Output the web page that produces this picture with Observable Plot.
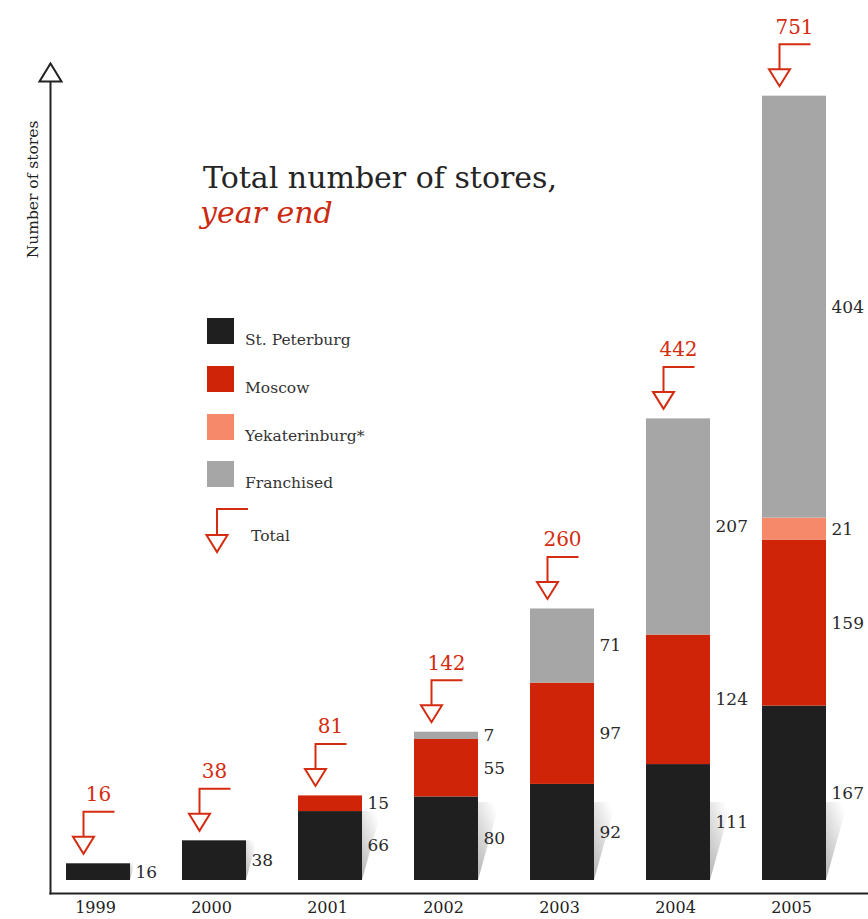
<!DOCTYPE html>
<html>
<head>
<meta charset="utf-8">
<script src="https://cdn.jsdelivr.net/npm/d3@7"></script>
<script src="https://cdn.jsdelivr.net/npm/@observablehq/plot@0.6"></script>
<style>
  body { margin: 0; background: #fff; }
  #wrap { position: relative; width: 868px; height: 919px; font-family: "DejaVu Serif", serif; }
  #wrap svg.overlay { position: absolute; left: 0; top: 0; pointer-events: none; }
</style>
</head>
<body>
<div id="wrap"></div>
<script>
// ---- data ----
const years = ["1999", "2000", "2001", "2002", "2003", "2004", "2005"];
const stPetersburg = [16, 38, 66, 80, 92, 111, 167];
const moscow = [0, 0, 15, 55, 97, 124, 159];
const yekaterinburg = [0, 0, 0, 0, 0, 0, 21];
const franchised = [0, 0, 0, 7, 71, 207, 404];
const totals = [16, 38, 81, 142, 260, 442, 751];
const seriesNames = ["St. Peterburg", "Moscow", "Yekaterinburg*", "Franchised"];
const seriesColors = ["#1f1f1f", "#cf2408", "#f5896a", "#a6a6a6"];
const titleLine1 = "Total number of stores,";
const titleLine2 = "year end";
const yLabel = "Number of stores";
const totalLabel = "Total";

const RED = "#d42c10";
const seriesValues = [stPetersburg, moscow, yekaterinburg, franchised];
const rows = [];
seriesNames.forEach((s, j) => years.forEach((y, i) => {
  if (seriesValues[j][i] > 0) rows.push({year: y, series: s, value: seriesValues[j][i]});
}));
const stRows = years.map((y, i) => ({year: y, value: stPetersburg[i]}));
const totalRows = years.map((y, i) => ({year: y, total: totals[i]}));

// arrow marker (line + hollow triangle), drawn relative to bar top centre
const arrowSymbol = {
  draw(ctx) {
    ctx.moveTo(16, -52); ctx.lineTo(-15, -52); ctx.lineTo(-15, -27);
    ctx.moveTo(-25.5, -27); ctx.lineTo(-4.5, -27); ctx.lineTo(-15, -10); ctx.closePath();
  }
};
const axisArrow = {
  draw(ctx) {
    ctx.moveTo(-11, 1); ctx.lineTo(11, 1); ctx.lineTo(0, -17); ctx.closePath();
  }
};

function shadowRender(index, scales, values) {
  const bw = scales.x.bandwidth ? scales.x.bandwidth() : scales.scales.x.bandwidth;
  const g = d3.create("svg:g");
  for (const i of index) {
    const xr = values.x[i] + bw;
    const yb = Math.max(values.y1[i], values.y2[i]);
    const yt = Math.max(Math.min(values.y1[i], values.y2[i]), yb - 78);
    const w = (yb - yt) * 0.28;
    g.append("path")
      .attr("d", `M${xr},${yb}L${xr},${yt}L${xr + w},${yt}Z`)
      .attr("fill", "url(#shadowGrad)");
  }
  return g.node();
}

function defs() {
  const d = d3.create("svg:defs");
  const lg = d.append("linearGradient").attr("id", "shadowGrad")
    .attr("x1", 0.7).attr("y1", 0).attr("x2", 0).attr("y2", 1);
  lg.append("stop").attr("offset", "0%").attr("stop-color", "#ffffff");
  lg.append("stop").attr("offset", "100%").attr("stop-color", "#b4b4b4");
  return d.node();
}

const chart = Plot.plot({
  width: 868,
  height: 919,
  marginLeft: 50,
  marginRight: 0,
  marginTop: 80,
  marginBottom: 26,
  style: {fontFamily: "DejaVu Serif, serif", background: "#fff", color: "#222"},
  x: {type: "band", domain: years, range: [64, 827], paddingInner: 0.45, paddingOuter: 0, axis: null},
  y: {domain: [0, 766], insetBottom: 13, axis: null},
  color: {domain: seriesNames, range: seriesColors},
  marks: [
    defs,
    Plot.frame({anchor: "left", stroke: "#222", strokeWidth: 2}),
    Plot.frame({anchor: "bottom", stroke: "#222", strokeWidth: 2}),
    Plot.dot([yLabel], {frameAnchor: "top-left", symbol: axisArrow, stroke: "#222", fill: "#fff", strokeWidth: 2, strokeLinejoin: "miter"}),
    Plot.text([yLabel], {frameAnchor: "top-left", text: d => d, dx: -17, dy: 109, rotate: -90, fontSize: 15.5, fill: "#222", textAnchor: "middle", lineAnchor: "middle"}),
    Plot.barY(stRows, {x: "year", y: "value", render: shadowRender}),
    Plot.barY(rows, {x: "year", y: "value", fill: "series", order: seriesNames}),
    Plot.text(rows, Plot.stackY({x: "year", y: "value", z: "series", order: seriesNames, text: "value", textAnchor: "start", dx: 37, fill: "#2a2a2a", fontSize: 17})),
    Plot.dot(totalRows, {x: "year", y: "total", symbol: arrowSymbol, stroke: RED, fill: "none", strokeWidth: 2, strokeLinejoin: "miter"}),
    Plot.text(totalRows, {x: "year", y: "total", text: "total", dy: -69, fill: RED, fontSize: 20}),
    Plot.axisX({tickSize: 0, tickPadding: 8, fontSize: 16, dx: -3, label: null, fill: "#222"})
  ]
});

const wrap = document.getElementById("wrap");
wrap.appendChild(chart);

// overlay: title + legend
const ov = d3.select(wrap).append("svg").attr("class", "overlay")
  .attr("width", 868).attr("height", 919)
  .style("font-family", "DejaVu Serif, serif");
ov.append("text").attr("x", 203).attr("y", 188).attr("font-size", 30).attr("fill", "#252525").text(titleLine1);
ov.append("text").attr("x", 200).attr("y", 223).attr("font-size", 30).attr("font-style", "italic").attr("fill", "#cc2a10").text(titleLine2);

const legendTop = [318, 366, 414, 461];
seriesNames.forEach((s, j) => {
  ov.append("rect").attr("x", 207).attr("y", legendTop[j]).attr("width", 27).attr("height", 26).attr("fill", seriesColors[j]);
  ov.append("text").attr("x", 245).attr("y", legendTop[j] + 27).attr("font-size", 15.5).attr("fill", "#333").text(s);
});
ov.append("path").attr("d", "M248,509H217V535M206.5,535H227.5L217,552Z")
  .attr("fill", "none").attr("stroke", RED).attr("stroke-width", 2).attr("stroke-linejoin", "miter");
ov.append("text").attr("x", 251).attr("y", 541).attr("font-size", 15.5).attr("fill", "#333").text(totalLabel);
</script>
</body>
</html>
